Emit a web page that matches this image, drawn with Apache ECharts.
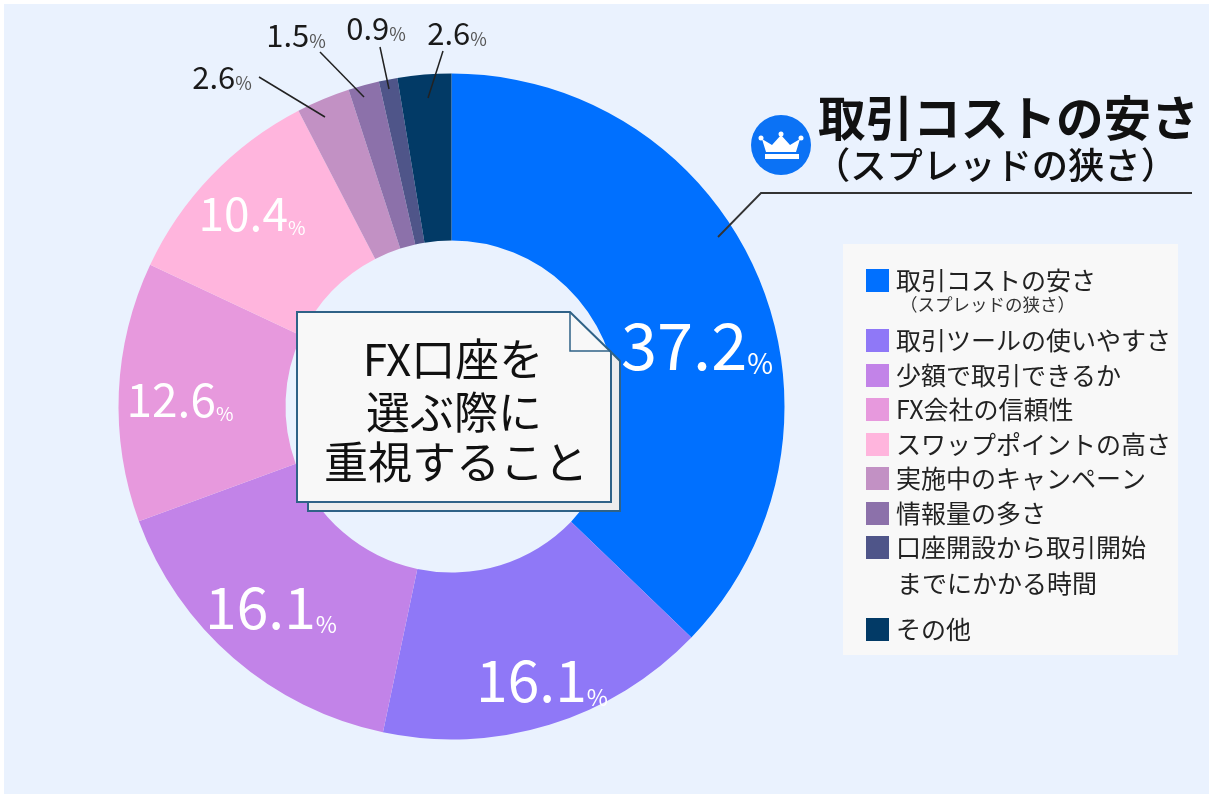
<!DOCTYPE html>
<html><head><meta charset="utf-8">
<style>html,body{margin:0;padding:0;background:#fff}#c{width:1209px;height:794px;filter:blur(0.45px)}</style>
<script src="https://cdn.jsdelivr.net/npm/echarts@6/dist/echarts.min.js"></script>
</head><body><div id="c"></div>
<script>
const categories = ['取引コストの安さ（スプレッドの狭さ）','取引ツールの使いやすさ','少額で取引できるか','FX会社の信頼性','スワップポイントの高さ','実施中のキャンペーン','情報量の多さ','口座開設から取引開始までにかかる時間','その他'];
const values = [37.2,16.1,16.1,12.6,10.4,2.6,1.5,0.9,2.6];
const colors = ['#0070FF','#8F78F7','#C283E8','#E799DD','#FFB5DD','#C291C4','#8C71AA','#4F5589','#023A66'];
const legendFirstLines = ['取引コストの安さ','取引ツールの使いやすさ','少額で取引できるか','FX会社の信頼性','スワップポイントの高さ','実施中のキャンペーン','情報量の多さ','口座開設から取引開始','その他'];
const legendTops = [268,328,363,397,432,466,501,535,617];
const labelPos = [[697,345],[542,680],[271,607],[180,400],[252,214],[222,77],[296,35],[376,28],[457,33]];
const labelSize = [[65,28],[57,23],[57,23],[46,19],[46,19],[31,18],[31,18],[31,18],[31,18]];
const labelColor = ['#fff','#fff','#fff','#fff','#fff','#1a1a1a','#1a1a1a','#1a1a1a','#1a1a1a'];
const leaders = [[[259,77],[325,117]],[[320,52],[364,97]],[[380,47],[389,89]],[[443,51],[428,98]]];
const FF = '"Noto Sans CJK JP","Noto Sans",sans-serif';

const chart = echarts.init(document.getElementById('c'), null, {renderer:'canvas'});
const rich = {};
labelSize.forEach((s,i)=>{
  rich['v'+i] = {fontSize:s[0], color:labelColor[i], fontFamily:FF};
  rich['p'+i] = {fontSize:s[1], color:i<5?'#fff':'#555', fontFamily:FF, padding:[Math.round(s[0]*0.1),0,0,0], verticalAlign:'bottom'};
});
const txt = (t,x,y,size,extra,z) => ({type:'text', z:z||20, style:Object.assign({text:t,x,y,fontSize:size,fontFamily:FF,fill:'#222',textAlign:'left',textVerticalAlign:'middle'},extra||{})});
chart.setOption({
  animation:false,
  backgroundColor:'#fff',
  legend: categories.map((c,i)=>({
    data:[c], left:866, top:legendTops[i], orient:'horizontal', selectedMode:false,
    icon:'rect', itemWidth:23, itemHeight:23, padding:0,
    formatter:()=>legendFirstLines[i],
    textStyle:{fontSize:25,color:'#222',fontFamily:FF,padding:[0,0,0,2]}, z:20
  })),
  series:[{
    type:'pie', center:[451.5,406.5], radius:[166,333], startAngle:90, clockwise:true, silent:true, z:5,
    data:categories.map((c,i)=>({name:c,value:values[i],itemStyle:{color:colors[i]},
      label:{formatter:`{v${i}|${values[i].toFixed(1)}}{p${i}|%}`}})),
    label:{show:true, position:'inside', rich, fontFamily:FF},
    labelLine:{show:false},
    labelLayout:(p)=>({x:labelPos[p.dataIndex][0], y:labelPos[p.dataIndex][1], align:'center', verticalAlign:'middle', hideOverlap:false}),
    emphasis:{disabled:true}
  }],
  graphic:{elements:[
    {type:'rect', z:-10, shape:{x:4,y:4,width:1205,height:790}, style:{fill:'#EAF2FE'}},
    {type:'rect', z:1, shape:{x:843,y:244,width:335,height:411}, style:{fill:'#F8F8F8'}},
    txt('（スプレッドの狭さ）',900,304,17.5,{fill:'#333'}),
    txt('までにかかる時間',897,583,25),
    ...leaders.map(l=>({type:'line', z:20, shape:{x1:l[0][0],y1:l[0][1],x2:l[1][0],y2:l[1][1]}, style:{stroke:'#222',lineWidth:1.5}})),
    {type:'polyline', z:20, shape:{points:[[718,237],[761,193],[1192,193]]}, style:{stroke:'#333',lineWidth:1.8,fill:null}},
    {type:'circle', z:20, shape:{cx:781,cy:145,r:30}, style:{fill:'#0B72F5'}},
    {type:'polygon', z:21, shape:{points:[[766,152],[762,139],[772,145],[781,135],[790,145],[800,139],[796,152]]}, style:{fill:'#fff'}},
    {type:'circle', z:21, shape:{cx:781,cy:134,r:2.5}, style:{fill:'#fff'}},
    {type:'circle', z:21, shape:{cx:761,cy:138,r:2.5}, style:{fill:'#fff'}},
    {type:'circle', z:21, shape:{cx:801,cy:138,r:2.5}, style:{fill:'#fff'}},
    {type:'rect', z:21, shape:{x:765,y:154,width:34,height:5}, style:{fill:'#fff'}},
    txt('取引コストの安さ',818,118,47.6,{fill:'#111',fontWeight:'bold'}),
    txt('（スプレッドの狭さ）',814,165,36.3,{fill:'#111',fontWeight:500}),
    {type:'polygon', z:22, shape:{points:[[308,500],[611,352],[620,361],[620,511],[308,511]]}, style:{fill:'#EDEDED',stroke:'#2F6287',lineWidth:2}},
    {type:'polygon', z:23, shape:{points:[[297,312],[570,312],[611,352],[611,502],[297,502]]}, style:{fill:'#F8F8F8',stroke:'#2F6287',lineWidth:2}},
    {type:'polyline', z:24, shape:{points:[[570,312],[570,351],[611,351]]}, style:{stroke:'#2F6287',lineWidth:1.5,fill:null}},
    txt('FX口座を',453,359,44,{textAlign:'center',fill:'#111'},25),
    txt('選ぶ際に',454,412,44,{textAlign:'center',fill:'#111'},25),
    txt('重視すること',456,462,44,{textAlign:'center',fill:'#111'},25)
  ]}
});
</script></body></html>
